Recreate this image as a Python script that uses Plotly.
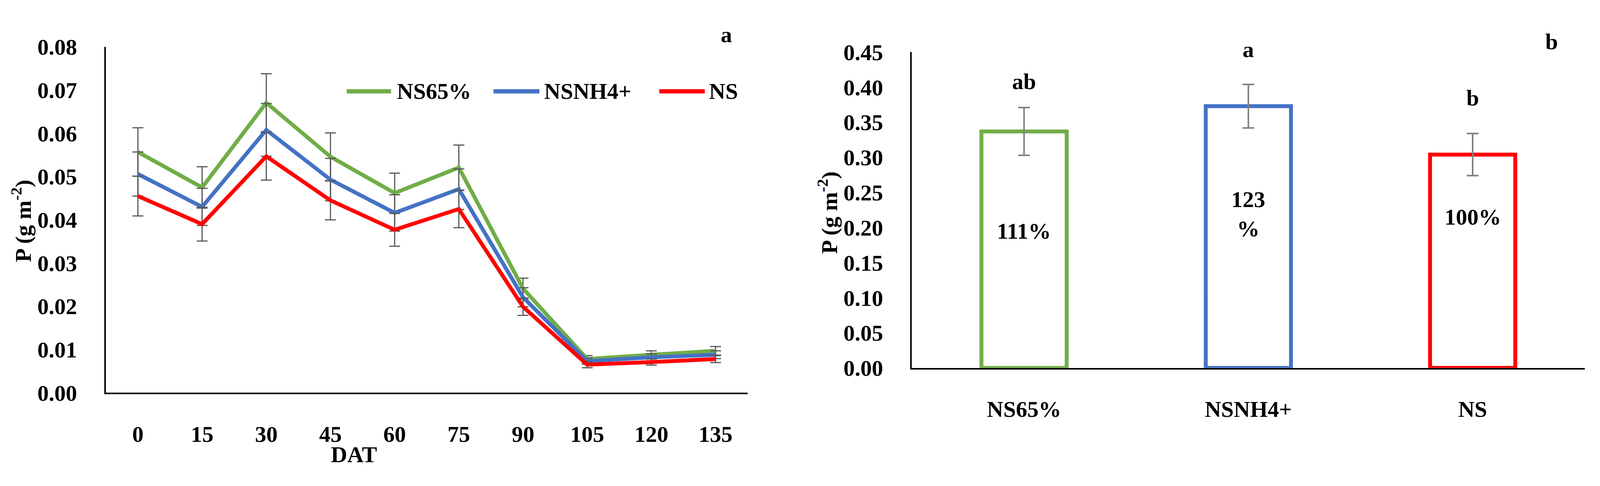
import plotly.graph_objects as go

# ---- data ----
dat = ["0", "15", "30", "45", "60", "75", "90", "105", "120", "135"]

ns65 = [0.0557, 0.0475, 0.0671, 0.0546, 0.0462, 0.0521, 0.0241, 0.0078, 0.0088, 0.0097]
nsnh4 = [0.0506, 0.0430, 0.0608, 0.0493, 0.0416, 0.0471, 0.0221, 0.0073, 0.0082, 0.0088]
ns = [0.0455, 0.0390, 0.0547, 0.0445, 0.0377, 0.0425, 0.0199, 0.0065, 0.0071, 0.0078]

ns65_err = [0.0056, 0.0048, 0.0067, 0.0055, 0.0046, 0.0052, 0.0024, 0.0008, 0.0009, 0.0010]
nsnh4_err = [0.0051, 0.0043, 0.0061, 0.0049, 0.0042, 0.0047, 0.0022, 0.0007, 0.0008, 0.0009]
ns_err = [0.0046, 0.0039, 0.0055, 0.0045, 0.0038, 0.0043, 0.0020, 0.0007, 0.0007, 0.0008]

treatments = ["NS65%", "NSNH4+", "NS"]
total_p = [0.337, 0.373, 0.304]
total_err = [0.034, 0.031, 0.030]
letters = ["ab", "a", "b"]
letter_y = [0.408, 0.454, 0.385]
pct_labels = ["111%", "123<br>%", "100%"]
pct_y = [0.195, 0.219, 0.215]

colors = ["#70AD47", "#4472C4", "#FF0000"]

W, H = 4218, 1244
Y2_MAX = 0.45


def px(x):
    return x / W


def py(y):
    return 1 - y / H


dom_y2 = [py(960), py(107)]


def y2_paper(v):
    # bar-panel value -> paper y (the letter above bar 2 sits above the axis top)
    return dom_y2[0] + v / Y2_MAX * (dom_y2[1] - dom_y2[0])


fig = go.Figure()

# panel a: lines
for vals, err, c, name in zip([ns65, nsnh4, ns], [ns65_err, nsnh4_err, ns_err], colors, treatments):
    fig.add_trace(go.Scatter(
        x=dat, y=vals, mode="lines", name=name, showlegend=False,
        line=dict(color=c, width=10),
        error_y=dict(type="data", array=err, color="#595959", thickness=3, width=14),
        xaxis="x", yaxis="y",
    ))

# panel b: hollow bars
fig.add_trace(go.Bar(
    x=treatments, y=total_p, width=0.38, showlegend=False,
    marker=dict(color="white", line=dict(color=colors, width=10)),
    error_y=dict(type="data", array=total_err, color="#808080", thickness=4, width=15),
    xaxis="x2", yaxis="y2",
))

axis_common = dict(showgrid=False, zeroline=False, showline=True, linecolor="black",
                   linewidth=4, ticks="", fixedrange=True)

fig.update_layout(
    width=W, height=H,
    margin=dict(l=0, r=0, t=0, b=0),
    paper_bgcolor="white", plot_bgcolor="white",
    font=dict(family="Liberation Serif", size=58, color="black", weight="bold"),
    xaxis=dict(domain=[px(279), px(1971)], anchor="y", type="category",
               ticklabelstandoff=52, **axis_common),
    yaxis=dict(domain=[py(1027), py(93)], anchor="x", range=[0, 0.08], dtick=0.01,
               tickformat=".2f", ticklabelstandoff=58, **axis_common),
    xaxis2=dict(domain=[px(2404), px(4178)], anchor="y2", type="category",
                ticklabelstandoff=52, **axis_common),
    yaxis2=dict(domain=dom_y2, anchor="x2", range=[0, Y2_MAX], dtick=0.05,
                tickformat=".2f", ticklabelstandoff=58, **axis_common),
)

ann = []
# axis titles
ann.append(dict(text="P (g m<sup>-2</sup>)", x=px(57), y=py(563), xref="paper", yref="paper",
                textangle=-90, showarrow=False, xanchor="center", yanchor="middle"))
ann.append(dict(text="DAT", x=px(933), y=py(1194), xref="paper", yref="paper",
                showarrow=False, xanchor="center", yanchor="middle"))
ann.append(dict(text="P (g m<sup>-2</sup>)", x=px(2183), y=py(540), xref="paper", yref="paper",
                textangle=-90, showarrow=False, xanchor="center", yanchor="middle"))
# panel labels
ann.append(dict(text="a", x=px(1915), y=py(60), xref="paper", yref="paper",
                showarrow=False, xanchor="center", yanchor="middle"))
ann.append(dict(text="b", x=px(4090), y=py(79), xref="paper", yref="paper",
                showarrow=False, xanchor="center", yanchor="middle"))
# letters and percentages on bars
for t, lt, ly, pl, pyv in zip(treatments, letters, letter_y, pct_labels, pct_y):
    ann.append(dict(text=lt, x=t, y=y2_paper(ly), xref="x2", yref="paper", showarrow=False,
                    xanchor="center", yanchor="middle"))
    ann.append(dict(text=pl, x=t, y=pyv, xref="x2", yref="y2", showarrow=False,
                    xanchor="center", yanchor="middle"))

# custom legend (long line samples like Excel)
shapes = []
leg_line = [(914, 1031), (1301, 1422), (1738, 1858)]
leg_text = [1044, 1432, 1867]
for (x0, x1), tx, c, name in zip(leg_line, leg_text, colors, treatments):
    shapes.append(dict(type="line", xref="paper", yref="paper", x0=px(x0), x1=px(x1),
                       y0=py(213), y1=py(213), line=dict(color=c, width=11)))
    ann.append(dict(text=name, x=px(tx), y=py(213), xref="paper", yref="paper",
                    showarrow=False, xanchor="left", yanchor="middle"))

fig.update_layout(annotations=ann, shapes=shapes)

# page has default body margin; drop it and fit the figure to the window
fit_js = (
    "document.body.style.margin='0';"
    "document.body.style.overflow='hidden';"
    "var gd=document.getElementById('{plot_id}');"
    "Plotly.relayout(gd,{width:window.innerWidth,height:window.innerHeight});"
)
fig.write_html("out.html", post_script=fit_js, config={"displayModeBar": False})
